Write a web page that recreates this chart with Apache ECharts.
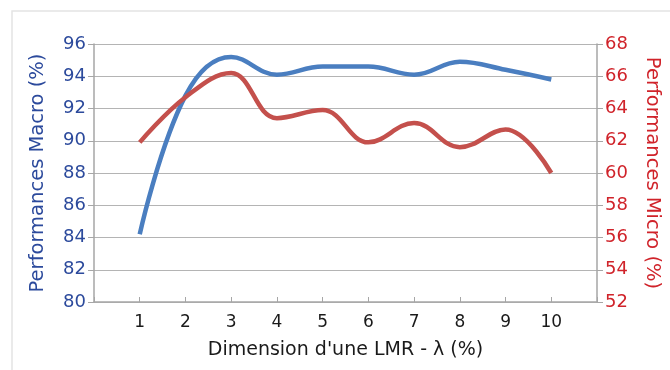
<!DOCTYPE html>
<html>
<head>
<meta charset="utf-8">
<script src="https://cdn.jsdelivr.net/npm/echarts@6/dist/echarts.min.js"></script>
<style>
  html, body { margin: 0; padding: 0; background: #fff; }
  #chart { width: 670px; height: 370px; }
</style>
</head>
<body>
<div id="chart"></div>
<script>
// dimension d'une LMR (lambda %)
const dims = [1, 2, 3, 4, 5, 6, 7, 8, 9, 10]
// performances macro (axe gauche) et micro (axe droit)
const macro = [84.2, 92.8, 95.2, 94.1, 94.6, 94.6, 94.1, 94.9, 94.4, 93.8]
const micro = [61.9, 64.7, 66.2, 63.4, 63.9, 61.9, 63.1, 61.6, 62.7, 60.0]

const font = 'DejaVu Sans, sans-serif'
const blue = '#4a7ec0'
const red = '#c4504c'

const myChart = echarts.init(document.getElementById('chart'))
let option = {
  animation: false,
  graphic: [{
    type: 'rect',
    z: -10,
    shape: { x: 12, y: 11, width: 700, height: 420 },
    style: { fill: '#fff', stroke: '#e4e4e4', lineWidth: 1.5 },
  }],
  grid: { left: 94, right: 70, top: 44, bottom: 68 },
  xAxis: {
    type: 'value',
    min: 0,
    max: 11,
    interval: 1,
    name: "Dimension d'une LMR - λ (%)",
    nameLocation: 'middle',
    nameGap: 39,
    nameTextStyle: { fontFamily: font, fontSize: 19, color: '#1a1a1a' },
    axisLine: { lineStyle: { color: '#a6a6a6', width: 1.5 } },
    axisTick: { inside: true, length: 5, lineStyle: { color: '#a6a6a6' } },
    splitLine: { show: false },
    axisLabel: {
      margin: 12,
      fontFamily: font,
      fontSize: 17,
      color: '#1a1a1a',
      formatter: (v) => (dims.includes(v) ? String(v) : ''),
    },
  },
  yAxis: [{
    type: 'value',
    min: 80,
    max: 96,
    interval: 2,
    position: 'left',
    name: 'Performances Macro (%)',
    nameLocation: 'middle',
    nameGap: 46,
    nameTextStyle: { fontFamily: font, fontSize: 19.5, color: '#2c4a9c' },
    axisLine: { show: true, lineStyle: { color: '#a6a6a6', width: 1.5 } },
    axisTick: { show: true, length: 6, lineStyle: { color: '#a6a6a6' } },
    splitLine: { lineStyle: { color: '#b4b4b4', width: 1.2 } },
    axisLabel: { margin: 8, fontFamily: font, fontSize: 18, color: '#2c4a9c' },
  }, {
    type: 'value',
    min: 52,
    max: 68,
    interval: 2,
    position: 'right',
    name: 'Performances Micro (%)',
    nameLocation: 'middle',
    nameRotate: -90,
    nameGap: 45,
    nameTextStyle: { fontFamily: font, fontSize: 19.5, color: '#d0232a' },
    axisLine: { show: true, lineStyle: { color: '#a6a6a6', width: 1.5 } },
    axisTick: { show: true, length: 6, lineStyle: { color: '#a6a6a6' } },
    splitLine: { show: false },
    axisLabel: { margin: 8, fontFamily: font, fontSize: 18, color: '#d0232a' },
  }],
  series: [{
    name: 'Macro',
    type: 'line',
    yAxisIndex: 0,
    smooth: 0.4,
    symbol: 'none',
    lineStyle: { color: blue, width: 4.5 },
    data: dims.map((d, i) => [d, macro[i]]),
  }, {
    name: 'Micro',
    type: 'line',
    yAxisIndex: 1,
    smooth: 0.4,
    symbol: 'none',
    lineStyle: { color: red, width: 4.5 },
    data: dims.map((d, i) => [d, micro[i]]),
  }],
}
option && myChart.setOption(option)
</script>
</body>
</html>
